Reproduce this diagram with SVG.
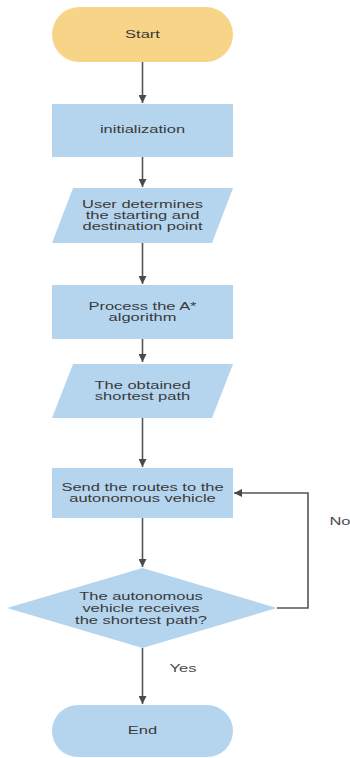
<svg xmlns="http://www.w3.org/2000/svg" width="350" height="758" viewBox="0 0 350 758">
<defs>
<marker id="arr" viewBox="0 0 10 10" refX="10" refY="5" markerWidth="8" markerHeight="8" markerUnits="userSpaceOnUse" orient="auto">
<path d="M0,0 L10,5 L0,10 z" fill="#4a4a4a"/>
</marker>
<style>
.blue{fill:#b5d5ef;}
.yellow{fill:#f8d488;}
.t{font-family:"Liberation Sans",Arial,sans-serif;font-size:10px;fill:#3a3a3a;text-anchor:middle;dominant-baseline:central;}
.lbl{font-family:"Liberation Sans",Arial,sans-serif;font-size:10px;fill:#4a4a4a;text-anchor:middle;dominant-baseline:central;}
.c{fill:none;stroke:#555;stroke-width:1.6;}
</style>
</defs>
<rect width="350" height="758" fill="#fff"/>
<g id="connectors">
<path class="c" d="M142.5,62 V103" marker-end="url(#arr)"/>
<path class="c" d="M142.5,157 V187" marker-end="url(#arr)"/>
<path class="c" d="M142.5,243 V284" marker-end="url(#arr)"/>
<path class="c" d="M142.5,339 V362" marker-end="url(#arr)"/>
<path class="c" d="M142.5,418 V467" marker-end="url(#arr)"/>
<path class="c" d="M142.5,518 V567" marker-end="url(#arr)"/>
<path class="c" d="M142.5,648 V704" marker-end="url(#arr)"/>
<path class="c" d="M277,608 H308 V493 H234" stroke-width="1.2" marker-end="url(#arr)"/>
<text class="lbl" transform="translate(183 669) scale(1.65 1)">Yes</text>
<text class="lbl" transform="translate(340 522) scale(1.65 1)">No</text>
</g>
<g id="start">
<rect class="yellow" x="52" y="7" width="181" height="55" rx="27.5"/>
<text class="t" transform="translate(142.5 35) scale(1.65 1)">Start</text>
</g>
<g id="init">
<rect class="blue" x="52" y="104" width="181" height="53"/>
<text class="t" transform="translate(142.5 130) scale(1.65 1)">initialization</text>
</g>
<g id="user">
<polygon class="blue" points="73,188 233,188 212,243 52,243"/>
<text class="t" transform="translate(142.5 204.5) scale(1.65 1)">User determines</text>
<text class="t" transform="translate(142.5 215.5) scale(1.65 1)">the starting and</text>
<text class="t" transform="translate(142.5 226.5) scale(1.65 1)">destination point</text>
</g>
<g id="process">
<rect class="blue" x="52" y="285" width="181" height="54"/>
<text class="t" transform="translate(142.5 307) scale(1.65 1)">Process the A*</text>
<text class="t" transform="translate(142.5 318) scale(1.65 1)">algorithm</text>
</g>
<g id="obtained">
<polygon class="blue" points="73,364 233,364 212,418 52,418"/>
<text class="t" transform="translate(142.5 385.5) scale(1.65 1)">The obtained</text>
<text class="t" transform="translate(142.5 396.5) scale(1.65 1)">shortest path</text>
</g>
<g id="send">
<rect class="blue" x="52" y="468" width="181" height="50"/>
<text class="t" transform="translate(142.5 488) scale(1.65 1)">Send the routes to the</text>
<text class="t" transform="translate(142.5 499) scale(1.65 1)">autonomous vehicle</text>
</g>
<g id="decision">
<polygon class="blue" points="142.5,568 277,608 142.5,648 7,608"/>
<text class="t" transform="translate(141 597) scale(1.65 1)">The autonomous</text>
<text class="t" transform="translate(141 609) scale(1.65 1)">vehicle receives</text>
<text class="t" transform="translate(141 621) scale(1.65 1)">the shortest path?</text>
</g>
<g id="end">
<rect class="blue" x="52" y="705" width="181" height="52" rx="26"/>
<text class="t" transform="translate(142.5 731) scale(1.65 1)">End</text>
</g>
</svg>
